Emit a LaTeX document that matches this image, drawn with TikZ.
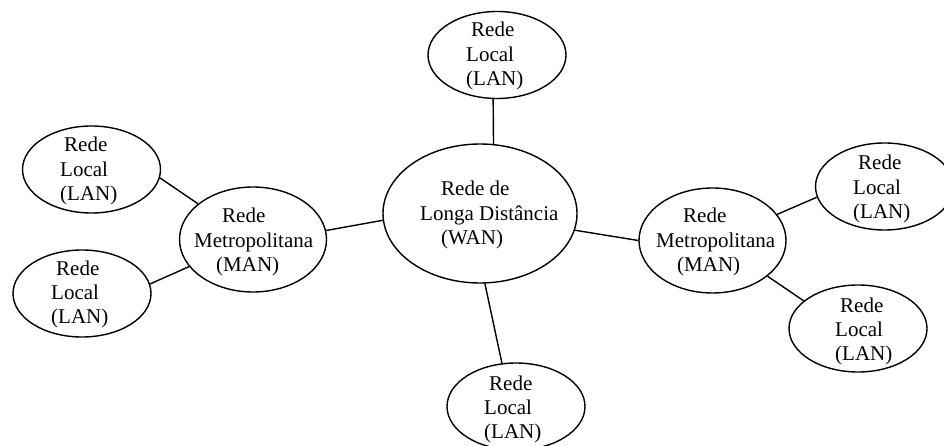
\documentclass[tikz,border=0pt]{standalone}
\usepackage{fontspec}
\setmainfont{Liberation Serif}
\usetikzlibrary{shapes.geometric}
% stacked lines of a label, first baseline at the node's base
\newcommand{\netlines}[1]{\begin{tabular}[t]{@{}l@{}}#1\end{tabular}}
\begin{document}
\begin{tikzpicture}[x=1pt,y=-1pt,
  net/.style={draw, ellipse, line width=1.4pt, inner sep=0pt},
  lan/.style={net, minimum width=138pt, minimum height=87pt},
  man/.style={net, minimum width=147pt, minimum height=105pt},
  wan/.style={net, minimum width=194pt, minimum height=139pt},
  link/.style={line width=1.4pt},
  lbl/.style={anchor=base west, inner sep=0pt, font=\fontsize{21}{24.3}\selectfont}
]
\useasboundingbox (0,0) rectangle (944,446);

% ellipses
\node[wan] (wan)   at (480,213.5) {};
\node[man] (manL)  at (253,239.5) {};
\node[man] (manR)  at (712.5,240.5) {};
\node[lan] (lanT)  at (497,55) {};
\node[lan] (lanL1) at (91.5,169.5) {};
\node[lan] (lanL2) at (82,293.5) {};
\node[lan] (lanR1) at (884.5,186.5) {};
\node[lan] (lanR2) at (858,328.5) {};
\node[lan] (lanB)  at (516,406.5) {};

% labels
\node[lbl] (twan)   at (420,196) {\netlines{\hspace*{21pt}Rede de\\Longa Distância\\\hspace*{21pt}(WAN)}};
\node[lbl] (tmanL)  at (194,223) {\netlines{\hspace*{28pt}Rede\\Metropolitana\\\hspace*{22pt}(MAN)}};
\node[lbl] (tmanR)  at (656,223) {\netlines{\hspace*{27pt}Rede\\Metropolitana\\\hspace*{21pt}(MAN)}};
\node[lbl] (tlanT)  at (466,37)  {\netlines{\hspace*{5pt}Rede\\Local\\(LAN)}};
\node[lbl] (tlanL1) at (60,152)  {\netlines{\hspace*{4pt}Rede\\Local\\(LAN)}};
\node[lbl] (tlanL2) at (51,275)  {\netlines{\hspace*{5pt}Rede\\Local\\(LAN)}};
\node[lbl] (tlanR1) at (853,170) {\netlines{\hspace*{5pt}Rede\\Local\\(LAN)}};
\node[lbl] (tlanR2) at (835,312) {\netlines{\hspace*{5pt}Rede\\Local\\(LAN)}};
\node[lbl] (tlanB)  at (484,390) {\netlines{\hspace*{5pt}Rede\\Local\\(LAN)}};

% links
\draw[link] (lanT.265) -- (wan.79);
\draw[link] (wan.184) -- (manL.7);
\draw[link] (wan.350) -- (manR.180);
\draw[link] (wan.274) -- (lanB.108);
\draw[link] (lanL1.353) -- (manL.147);
\draw[link] (lanL2.8) -- (manL.203);
\draw[link] (manR.22) -- (lanR1.189);
\draw[link] (manR.327) -- (lanR2.153);
\end{tikzpicture}
\end{document}
